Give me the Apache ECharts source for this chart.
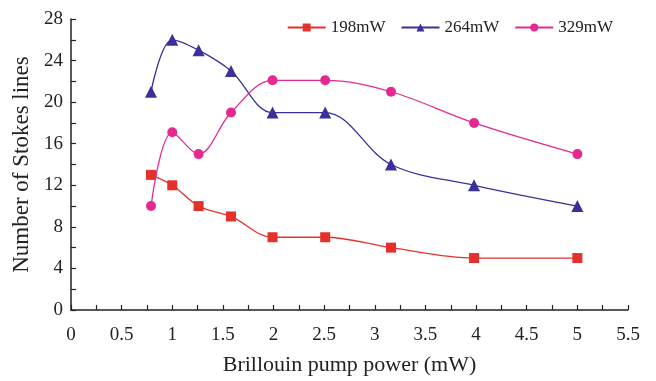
<!DOCTYPE html>
<html><head><meta charset="utf-8">
<script src="https://cdn.jsdelivr.net/npm/echarts@6/dist/echarts.min.js"></script>
<style>html,body{margin:0;padding:0;background:#fff}#c{width:656px;height:381px}</style>
</head><body><div id="c"></div>
<script>
const pumpPower = [0.79, 1.0, 1.26, 1.58, 1.99, 2.51, 3.16, 3.98, 5.0];
const seriesNames = ['198mW', '264mW', '329mW'];
const stokes198 = [13, 12, 10, 9, 7, 7, 6, 5, 5];
const stokes264 = [21, 26, 25, 23, 19, 19, 14, 12, 10];
const stokes329 = [10, 17.1, 15, 19, 22.1, 22.1, 21, 18, 15];
const xAxisName = 'Brillouin pump power (mW)';
const yAxisName = 'Number of Stokes lines';

const font = '"Liberation Serif", "DejaVu Serif", serif';
const colors = ['#e4312b', '#3b2f9c', '#e42a90'];
const symbols = ['rect', 'triangle', 'circle'];
const sizes = [10, 12, 10];
const vals = [stokes198, stokes264, stokes329];

const chart = echarts.init(document.getElementById('c'));
chart.setOption({
  animation: false,
  textStyle: { fontFamily: font },
  grid: { left: 71, right: 28, top: 19, bottom: 70 },
  legend: {
    top: 14, right: 38, itemWidth: 38, itemHeight: 10, itemGap: 15,
    textStyle: { fontFamily: font, fontSize: 17, color: '#222' },
    data: seriesNames
  },
  xAxis: {
    type: 'value', min: 0, max: 5.5, interval: 0.5,
    name: xAxisName, nameLocation: 'middle', nameGap: 44,
    nameTextStyle: { fontFamily: font, fontSize: 22, color: '#222' },
    axisLine: { lineStyle: { color: '#222', width: 1.5 } },
    axisTick: { inside: true, length: 5, lineStyle: { color: '#222', width: 1.2 } },
    minorTick: { show: true, splitNumber: 2, length: 5, lineStyle: { color: '#222', width: 1.2 } },
    axisLabel: { fontFamily: font, fontSize: 19, color: '#222', margin: 16 },
    splitLine: { show: false }
  },
  yAxis: {
    type: 'value', min: 0, max: 28, interval: 4,
    name: yAxisName, nameLocation: 'middle', nameGap: 37, nameRotate: 90,
    nameTextStyle: { fontFamily: font, fontSize: 23, color: '#222' },
    axisLine: { show: true, lineStyle: { color: '#222', width: 1.5 } },
    axisTick: { show: true, inside: true, length: 5, lineStyle: { color: '#222', width: 1.2 } },
    minorTick: { show: true, splitNumber: 2, length: 5, lineStyle: { color: '#222', width: 1.2 } },
    axisLabel: { fontFamily: font, fontSize: 19, color: '#222', margin: 8 },
    splitLine: { show: false }
  },
  series: seriesNames.map((n, i) => ({
    name: n, type: 'line', smooth: 0.35,
    data: pumpPower.map((x, j) => [x, vals[i][j]]),
    symbol: symbols[i], symbolSize: sizes[i], showAllSymbol: true,
    itemStyle: { color: colors[i] },
    lineStyle: { color: colors[i], width: 1.3 }
  }))
});
</script></body></html>
